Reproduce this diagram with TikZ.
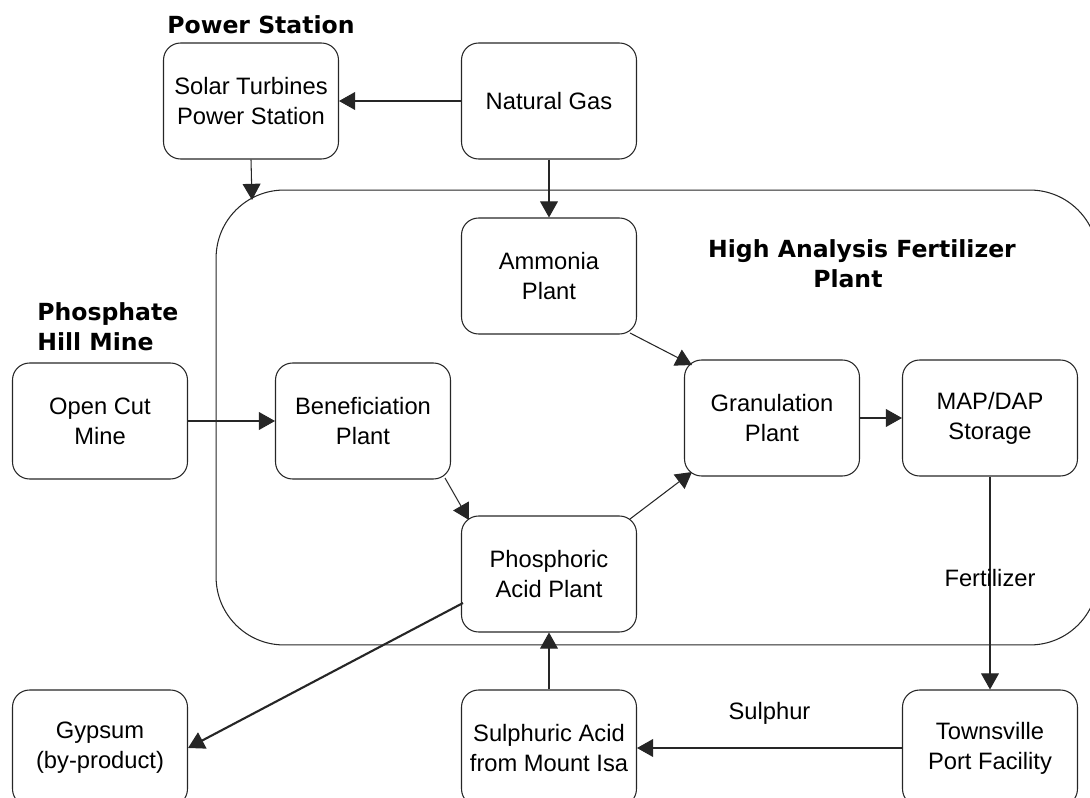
\documentclass[tikz,border=0pt]{standalone}
\usepackage{fontspec}
\setmainfont{Liberation Sans}
\newfontfamily\titlefont{DejaVu Sans}
\usetikzlibrary{arrows.meta,calc}
\newcommand\boxfont{\fontsize{13.5pt}{17.07pt}\selectfont}
\newcommand\ttlfont{\titlefont\bfseries\fontsize{13.4pt}{17.07pt}\selectfont}
\begin{document}
\begin{tikzpicture}[x=0.02cm,y=-0.02cm,
  proc/.style={draw=black!85, line width=0.6pt, rounded corners=0.34cm,
    minimum width=3.5cm, minimum height=2.32cm, align=center, inner sep=0pt, font=\boxfont},
  flow/.style={draw=black!85, line width=0.6pt, -{Triangle[length=9.2pt,width=10.2pt]}},
  ttl/.style={font=\ttlfont, inner sep=0pt, align=center},
  lbl/.style={font=\boxfont, inner sep=0pt}]
\useasboundingbox (0,0) rectangle (1090,798);
\node[draw=black!85, line width=0.6pt, rounded corners=1.36cm, minimum width=17.64cm,
  minimum height=9.1cm, inner sep=0pt] (plant) at (657,417.5) {};
\node[proc] (solar) at (251,101) {Solar Turbines\\ Power Station};
\node[proc] (gas) at (549,101) {Natural Gas};
\node[proc] (ammonia) at (549,276) {Ammonia\\Plant};
\node[proc] (mine) at (100,421) {Open Cut\\Mine};
\node[proc] (benef) at (363,421) {Beneficiation\\Plant};
\node[proc] (gran) at (772,418) {Granulation\\Plant};
\node[proc] (store) at (990,418) {MAP/DAP\\Storage};
\node[proc] (phos) at (549,574) {Phosphoric\\ Acid Plant};
\node[proc] (gyp) at (100,748) {Gypsum\\(by-product)};
\node[proc] (sulph) at (549,748) {Sulphuric Acid\\from Mount Isa};
\node[proc] (town) at (990,748) {Townsville\\ Port Facility};
\node[ttl, anchor=base] (pstitle) at (261,33) {Power Station};
\node[ttl, align=left, anchor=west] (mtitle) at (37,327) {Phosphate\\Hill Mine};
\node[ttl] (ftitle) at (862,264) {High Analysis Fertilizer\\Plant\hspace*{1.2em}};
\coordinate (plantin) at (252,200);
\draw[flow] (gas.west) -- (solar.east);
\draw[flow] (solar.south) -- (plantin);
\draw[flow] (gas.south) -- (ammonia.north);
\draw[flow] (mine.east) -- (benef.west);
\draw[flow] ($(benef)+(82,57)$) -- ($(phos)+(-80,-54)$);
\draw[flow] ($(ammonia)+(81,57)$) -- ($(gran)+(-80,-53)$);
\draw[flow] ($(phos)+(81,-55)$) -- ($(gran)+(-80,54)$);
\draw[flow] (gran.east) -- (store.west);
\draw[flow] (store.south) -- node[lbl, pos=0.477] {Fertilizer} (town.north);
\draw[flow] (town.west) -- node[lbl, midway, yshift=0.7cm] {Sulphur} (sulph.east);
\draw[flow] (sulph.north) -- (phos.south);
\draw[flow, line width=1.2pt] ($(phos)+(-86,29)$) -- (gyp.east);
\end{tikzpicture}
\end{document}
